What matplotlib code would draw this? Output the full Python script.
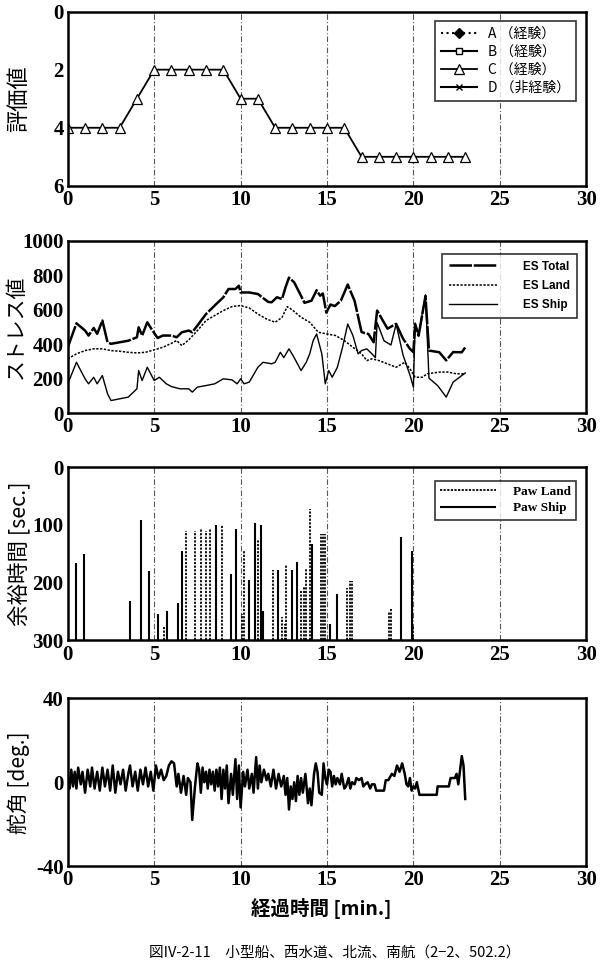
import matplotlib
matplotlib.use("Agg")
import matplotlib.pyplot as plt
import numpy as np

plt.rcParams["font.family"] = ["Noto Sans CJK JP", "DejaVu Sans"]
plt.rcParams["axes.unicode_minus"] = False

# ---------- data ----------
eval_t = list(range(24))
eval_c = [4, 4, 4, 4, 3, 2, 2, 2, 2, 2, 3, 3, 4, 4, 4, 4, 4, 5, 5, 5, 5, 5, 5, 5]

tot_t = [0, 0.5, 1.0, 1.2, 1.5, 1.7, 2.0, 2.3, 2.5, 3.0, 3.5, 4.0, 4.1, 4.3, 4.6, 4.9, 5.2, 5.5, 6.0, 6.3,
         6.6, 7.0, 7.2, 7.5, 8.0, 8.5, 9.0, 9.3, 9.7, 9.9, 10.0, 10.5, 11.0, 11.6, 11.8, 12.1, 12.4, 12.6,
         12.8, 13.1, 13.7, 14.1, 14.4, 14.6, 14.76, 14.96, 15.2, 15.45, 15.8, 16.2, 16.6, 17.0, 17.4, 17.7,
         17.9, 18.5, 19.0, 19.4, 19.8, 20.0, 20.1, 20.3, 20.7, 20.9, 21.5, 21.9, 22.3, 22.8, 23.0]
tot_v = [382, 521, 479, 450, 494, 460, 537, 411, 402, 411, 420, 440, 498, 450, 527, 479, 436, 450, 450, 440,
         469, 479, 469, 508, 575, 624, 672, 720, 720, 739, 700, 700, 691, 645, 643, 672, 662, 730,
         786, 759, 640, 652, 713, 681, 694, 583, 630, 621, 652, 746, 650, 470, 459, 411,
         595, 490, 518, 432, 373, 354, 516, 449, 680, 363, 353, 306, 354, 353, 382]

land_t = [0, 0.5, 1.0, 1.5, 2.0, 2.5, 3.0, 3.5, 4.0, 4.5, 5.0, 5.5, 6.0, 6.3, 6.6, 7.0, 7.5, 8.0, 8.5, 9.0,
          9.5, 10.0, 10.5, 11.0, 11.5, 12.0, 12.4, 12.7, 13.0, 13.5, 14.0, 14.5, 15.0, 15.5, 16.0, 16.5,
          17.0, 17.3, 17.6, 18.0, 18.5, 19.0, 19.5, 19.8, 20.1, 20.5, 20.8, 21.5, 22.0, 22.5, 23.0]
land_v = [315, 344, 363, 373, 373, 363, 359, 353, 349, 353, 367, 382, 405, 421, 392, 425, 479, 537, 566, 595,
          618, 624, 610, 575, 546, 527, 556, 618, 598, 556, 527, 469, 459, 450, 421, 382,
          344, 305, 315, 305, 286, 266, 295, 257, 208, 208, 228, 238, 238, 228, 228]

ship_t = [0, 0.5, 1.0, 1.2, 1.5, 1.7, 2.0, 2.3, 2.5, 3.0, 3.5, 4.0, 4.1, 4.3, 4.6, 5.0, 5.3, 5.7, 6.0, 6.5,
          7.0, 7.2, 7.5, 8.0, 8.5, 9.0, 9.5, 9.8, 10.0, 10.2, 10.5, 11.0, 11.3, 11.8, 12.0, 12.3, 12.5,
          12.8, 13.1, 13.5, 13.8, 14.0, 14.2, 14.4, 14.7, 14.9, 15.1, 15.3, 15.6, 15.9, 16.2, 16.5, 16.8,
          17.0, 17.3, 17.6, 17.8, 17.9, 18.3, 18.7, 19.0, 19.4, 19.8, 20.0, 20.1, 20.3, 20.7, 20.9,
          21.4, 21.9, 22.3, 23.0]
ship_v = [170, 295, 199, 170, 208, 170, 218, 112, 73, 83, 93, 141, 247, 189, 266, 189, 208, 170, 154, 141,
          141, 122, 151, 160, 170, 199, 193, 170, 199, 170, 180, 266, 295, 286, 295, 353, 322,
          373, 322, 247, 295, 344, 421, 459, 344, 170, 247, 208, 266, 382, 517, 450, 344,
          363, 373, 344, 322, 525, 420, 395, 517, 337, 221, 151, 523, 453, 686, 203,
          160, 93, 180, 233]

pland_t = [5.57, 6.83, 7.35, 7.72, 7.99, 8.24, 8.94, 10.06, 10.19, 11.0, 11.88, 12.41, 12.55, 12.65,
           13.5, 13.65, 13.76, 14.04, 14.67, 14.76, 14.86, 16.18, 16.33, 16.43, 18.59, 18.69, 19.96]
pland_v = [275, 110, 110, 105, 110, 105, 100, 254, 145, 125, 179, 260, 271, 170,
           214, 208, 175, 73, 115, 115, 115, 210, 197, 197, 251, 245, 277]
pship_t = [0.48, 0.91, 3.58, 4.24, 4.68, 5.24, 5.73, 6.38, 6.58, 8.55, 9.42, 9.75, 10.5, 10.83, 11.18,
           11.3, 12.16, 13.0, 13.24, 14.12, 15.16, 15.59, 19.31, 19.92]
pship_v = [166, 150, 232, 91, 180, 254, 249, 236, 145, 100, 185, 107, 195, 97, 100,
           249, 179, 179, 165, 134, 271, 220, 121, 146]

rud_t = [0.0, 0.1, 0.2, 0.3, 0.4, 0.5, 0.6, 0.75, 0.85, 1.0, 1.15, 1.3, 1.4, 1.55, 1.7, 1.85, 2.0, 2.15,
         2.3, 2.45, 2.6, 2.75, 2.9, 3.05, 3.2, 3.35, 3.5, 3.6, 3.75, 3.9, 4.05, 4.2, 4.35, 4.5, 4.65, 4.8,
         4.95, 5.1, 5.25, 5.4, 5.55, 5.7, 5.85, 6.0, 6.15, 6.3, 6.4, 6.55, 6.7, 6.85, 6.95, 7.1, 7.2, 7.35,
         7.5, 7.6, 7.7, 7.8, 7.9, 8.0, 8.1, 8.2, 8.3, 8.4, 8.5, 8.6, 8.7, 8.8, 8.9, 9.0, 9.1, 9.2, 9.3,
         9.45, 9.55, 9.7, 9.8, 9.9, 10.0, 10.15, 10.25, 10.4, 10.5, 10.65, 10.75, 10.9, 11.0, 11.1, 11.2,
         11.35, 11.5, 11.6, 11.75, 11.9, 12.05, 12.2, 12.35, 12.5, 12.6, 12.7, 12.8, 12.9, 13.0, 13.1,
         13.2, 13.3, 13.4, 13.5, 13.6, 13.75, 13.9, 14.0, 14.1, 14.25, 14.35, 14.45, 14.55, 14.7, 14.8,
         14.9, 15.0, 15.1, 15.2, 15.3, 15.4, 15.5, 15.6, 15.75, 15.85, 16.0, 16.1, 16.25, 16.35, 16.45,
         16.6, 16.7, 16.85, 17.0, 17.1, 17.2, 17.35, 17.5, 17.6, 17.75, 17.85, 18.3, 18.4, 18.55, 18.75,
         18.9, 19.05, 19.2, 19.35, 19.5, 19.6, 19.7, 19.8, 19.9, 20.0, 20.1, 20.2, 20.35, 21.35, 21.4,
         22.05, 22.15, 22.4, 22.5, 22.6, 22.8, 22.9, 23.0]
rud_v = [0, -3, 6, -2, 5, -3, 7, -1, 5, -5, 6, -2, 7, -3, 5, -4, 7, -2,
         6, -4, 8, -5, 5, -1, 6, -4, 4, 8, -2, 5, -4, 6, -1, 7, -2, 5,
         -4, 8, 2, 6, 1, 3, 8, 10, 9, -2, 4, -5, 3, -6, 2, 0, -18, -3,
         9, 6, -5, 7, 0, 5, -3, 6, -1, 5, -4, 6, -2, 7, -8, 6, -3, 8, -10,
         4, -6, 11, -8, 8, -12, 5, -2, 6, -3, 4, -5, 12, -3, 8, 0,
         6, 1, 4, -2, 6, -3, 4, -2, 3, -6, 2, -13, -2, -8, 0,
         -9, 3, -6, 2, -5, 4, -10, -3, -11, 4, 9, 5, -5, -6, 9,
         2, -1, 6, 5, -2, 3, -1, 2, -1, 4, -3, -2, 2, -3, 0,
         -1, 2, 1, 2, -2, -1, 0, -3, -1, -1, -4, -4, 1, 1, 4,
         3, 8, 5, 9, 4, -1, -2, 2, -4, -2, -3, 0, -6, -6, -2,
         -2, 2, 2, 4, -1, 12.5, 8, -8]

# ---------- figure ----------
fig = plt.figure(figsize=(6.0, 9.63), dpi=100)
L, W = 0.113, 0.864
boxes = [(0.807, 0.181), (0.571, 0.179), (0.335, 0.180), (0.1007, 0.174)]
axs = [fig.add_axes([L, b, W, h]) for b, h in boxes]

tick_font = dict(family="Liberation Serif", weight="bold", size=15)
for ax in axs:
    ax.set_xlim(0, 30)
    ax.set_xticks(range(0, 31, 5))
    for x in range(5, 30, 5):
        ax.axvline(x, color="0.35", lw=0.8, ls=(0, (5, 2, 1, 2)), zorder=0)
    for s in ax.spines.values():
        s.set_linewidth(1.8)
    ax.tick_params(length=0, pad=3)

# panel 1
ax = axs[0]
ax.plot([], [], ls=":", color="k", marker="D", ms=5, label="A （経験）")
ax.plot([], [], ls="-", color="k", marker="s", ms=5, mfc="white", label="B （経験）")
ax.plot(eval_t, eval_c, ls="-", color="k", lw=1.3, marker="^", ms=7, mfc="white", mew=0.9, label="C （経験）")
ax.plot([], [], ls="-", color="k", marker="x", ms=5, label="D （非経験）")
ax.set_ylim(6, 0)
ax.set_yticks([0, 2, 4, 6])
ax.set_ylabel("評価値", fontsize=16)
ax.yaxis.set_label_coords(-0.072, 0.5)
leg = ax.legend(loc="upper right", fontsize=10, frameon=True, fancybox=False, edgecolor="k",
                handlelength=2.6, borderpad=0.4, labelspacing=0.3, bbox_to_anchor=(0.993, 0.985))
leg.get_frame().set_linewidth(1.2)

# panel 2
ax = axs[1]
ax.plot(tot_t, tot_v, color="k", lw=1.8, ls=(0, (9, 0.7)), label="ES Total")
ax.plot(land_t, land_v, color="k", lw=1.1, ls=(0, (1.5, 1)), label="ES Land")
ax.plot(ship_t, ship_v, color="k", lw=1.0, label="ES Ship")
ax.set_ylim(0, 1000)
ax.set_yticks(range(0, 1001, 200))
ax.set_ylabel("ストレス値", fontsize=15)
ax.yaxis.set_label_coords(-0.078, 0.5)
leg = ax.legend(loc="upper right", prop=dict(family="Liberation Sans", weight="bold", size=8.5),
                frameon=True, fancybox=False, edgecolor="k", handlelength=4.0, handletextpad=2.2,
                borderpad=0.6, labelspacing=0.6, bbox_to_anchor=(0.993, 0.96))
leg.get_frame().set_linewidth(1.2)

# panel 3
ax = axs[2]
ax.vlines(pland_t, 300, pland_v, color="k", lw=1.3, linestyles=(0, (1.2, 0.8)), label="Paw Land")
ax.vlines(pship_t, 300, pship_v, color="k", lw=1.5, label="Paw Ship")
ax.set_ylim(300, 0)
ax.set_yticks([0, 100, 200, 300])
ax.set_ylabel("余裕時間 [sec.]", fontsize=15.5)
ax.yaxis.set_label_coords(-0.072, 0.5)
leg = ax.legend(loc="upper right", prop=dict(family="Liberation Serif", weight="bold", size=9.5),
                frameon=True, fancybox=False, edgecolor="k", handlelength=4.2, handletextpad=1.3,
                borderpad=0.4, labelspacing=0.3, bbox_to_anchor=(0.993, 0.96))
leg.get_frame().set_linewidth(1.2)

# panel 4
ax = axs[3]
ax.plot(rud_t, rud_v, color="k", lw=1.8)
ax.set_ylim(-40, 40)
ax.set_yticks([-40, 0, 40])
ax.set_ylabel("舵角 [deg.]", fontsize=15)
ax.yaxis.set_label_coords(-0.072, 0.5)

for ax in axs:
    for lab in ax.get_xticklabels() + ax.get_yticklabels():
        lab.set_fontproperties(tick_font)

fig.text(0.535, 0.057, "経過時間 [min.]", ha="center", va="center", fontsize=14, weight="bold")
fig.text(0.558, 0.011, "図IV-2-11　小型船、西水道、北流、南航（2−2、502.2）", ha="center", va="center",
         fontsize=10.5)

fig.savefig("out.png", dpi=100)
